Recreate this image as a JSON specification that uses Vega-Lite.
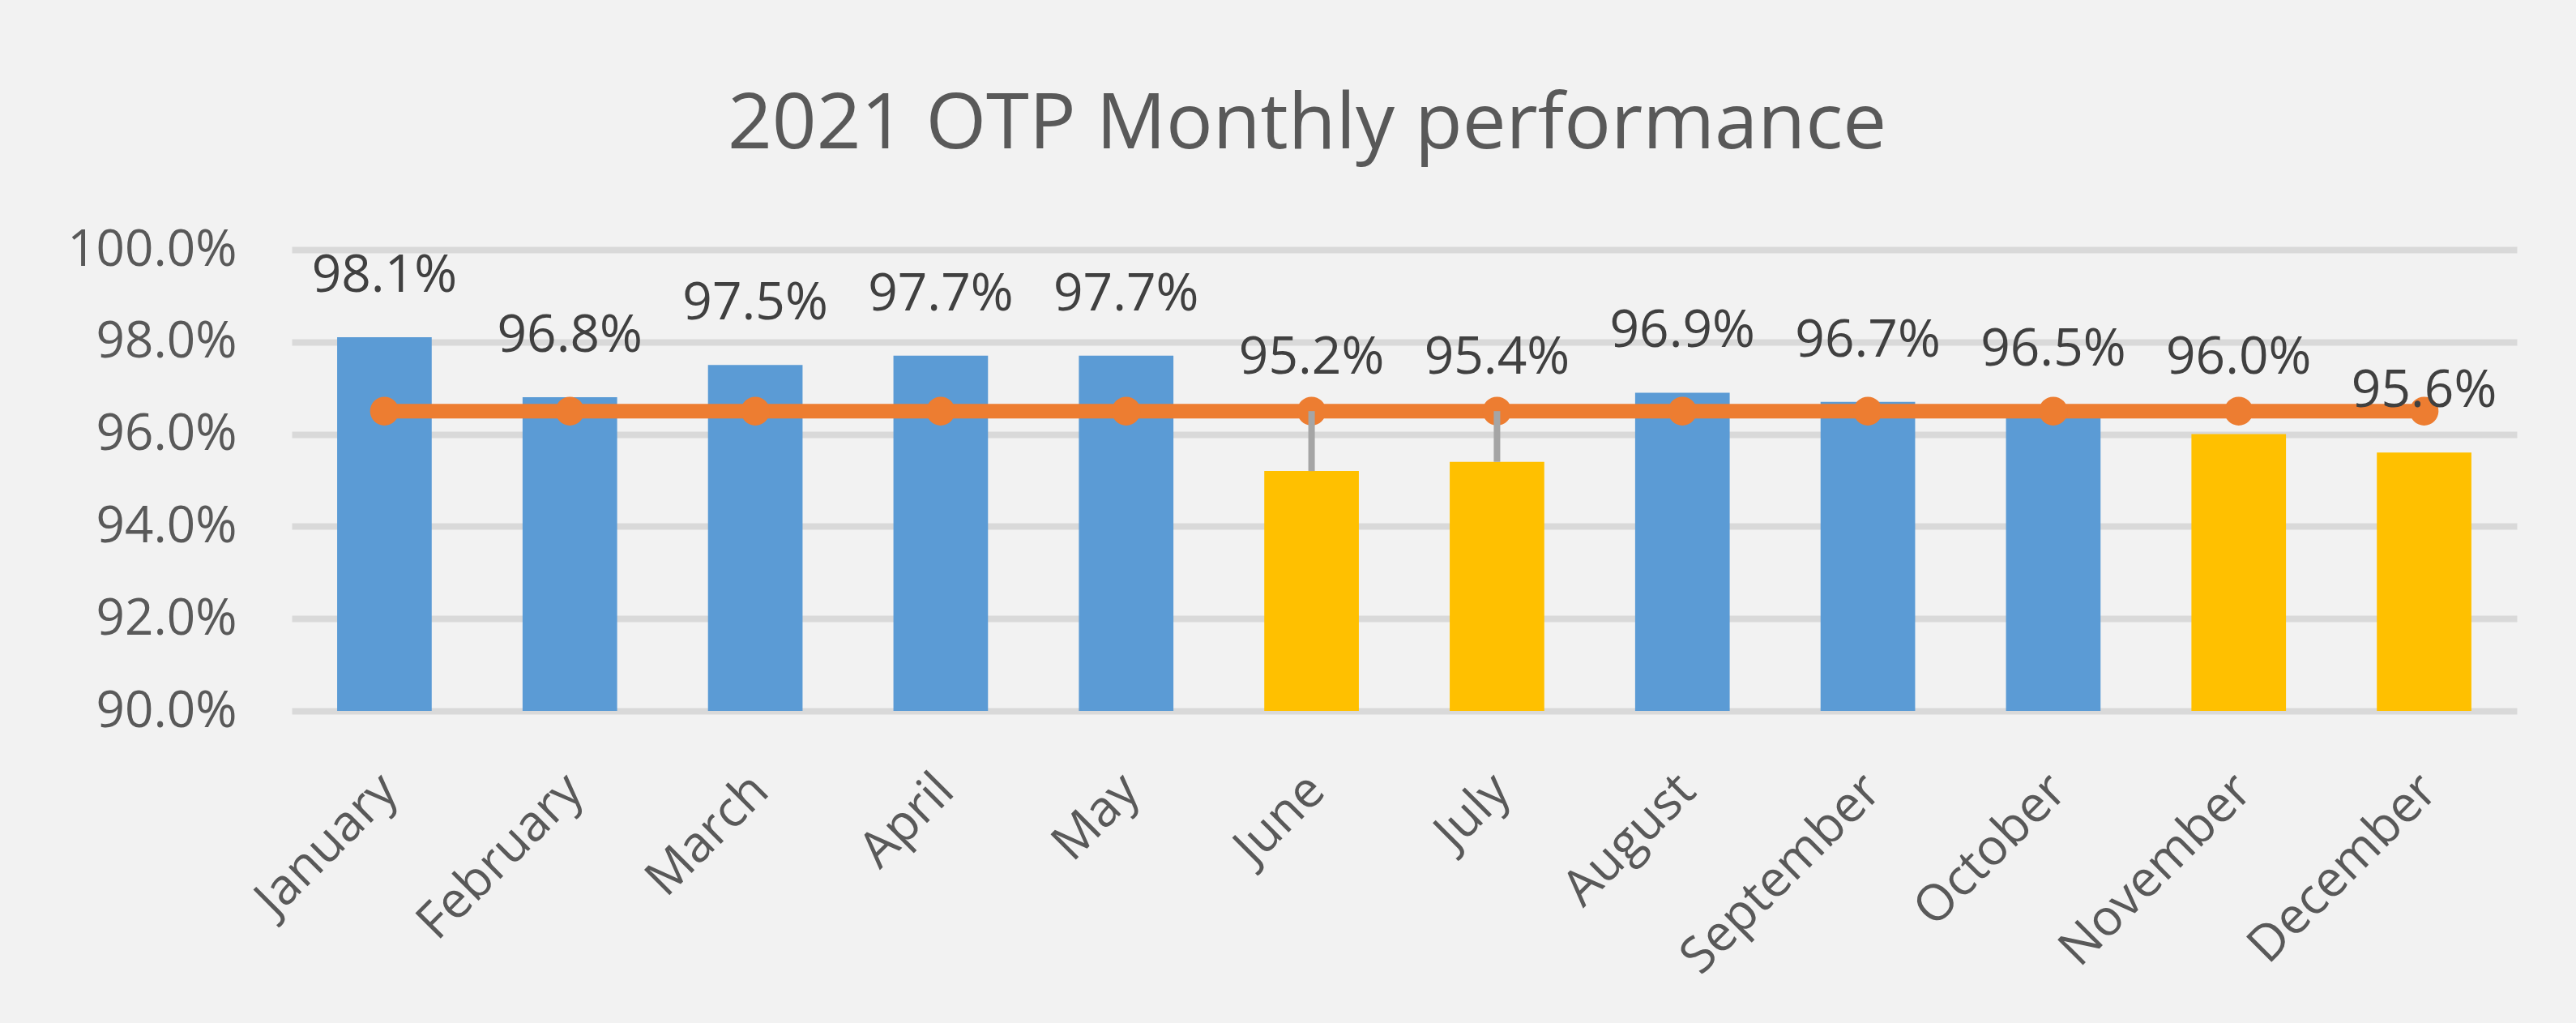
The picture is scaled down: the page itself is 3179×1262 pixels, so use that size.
{
  "$schema": "https://vega.github.io/schema/vega-lite/v6.json",
  "autosize": {"type": "none"},
  "width": 2746,
  "height": 569,
  "padding": {"left": 360, "top": 308, "right": 73, "bottom": 385},
  "background": "#F2F2F2",
  "config": {
    "view": {"stroke": null},
    "font": "Open Sans"
  },
  "title": {
    "text": "2021 OTP Monthly performance",
    "fontSize": 96,
    "font": "Open Sans",
    "fontWeight": "normal",
    "color": "#595959",
    "anchor": "middle",
    "dx": -120,
    "offset": 74
  },
  "data": {
    "values": [
      {"month": "January", "otp": 0.981, "target": 0.965},
      {"month": "February", "otp": 0.968, "target": 0.965},
      {"month": "March", "otp": 0.975, "target": 0.965},
      {"month": "April", "otp": 0.977, "target": 0.965},
      {"month": "May", "otp": 0.977, "target": 0.965},
      {"month": "June", "otp": 0.952, "target": 0.965},
      {"month": "July", "otp": 0.954, "target": 0.965},
      {"month": "August", "otp": 0.969, "target": 0.965},
      {"month": "September", "otp": 0.967, "target": 0.965},
      {"month": "October", "otp": 0.965, "target": 0.965},
      {"month": "November", "otp": 0.960, "target": 0.965},
      {"month": "December", "otp": 0.956, "target": 0.965}
    ]
  },
  "encoding": {
    "x": {
      "field": "month",
      "type": "nominal",
      "sort": null,
      "scale": {"paddingInner": 0.49, "paddingOuter": 0.245},
      "axis": {
        "title": null,
        "domain": false,
        "ticks": false,
        "grid": false,
        "labelAngle": -45,
        "labelAlign": "right",
        "labelBaseline": "middle",
        "labelFontSize": 62,
        "labelFont": "Open Sans",
        "labelColor": "#595959",
        "labelLimit": 0,
        "labelPadding": 88,
        "labelOffset": 6
      }
    }
  },
  "layer": [
    {
      "mark": {"type": "bar", "width": {"band": 1}},
      "encoding": {
        "y": {
          "field": "otp",
          "type": "quantitative",
          "scale": {"domain": [0.9, 1.0], "zero": false, "clamp": true},
          "axis": {
            "title": null,
            "format": ".1%",
            "values": [0.9, 0.92, 0.94, 0.96, 0.98, 1.0],
            "domain": false,
            "ticks": false,
            "grid": true,
            "gridColor": "#D9D9D9",
            "gridWidth": 8,
            "labelFontSize": 62,
            "labelFont": "Open Sans",
            "labelColor": "#595959",
            "labelLimit": 0,
            "labelPadding": 68
          }
        },
        "y2": {"datum": 0.9},
        "color": {
          "condition": {"test": "datum.otp < datum.target", "value": "#FFC000"},
          "value": "#5B9BD5"
        }
      }
    },
    {
      "mark": {"type": "line", "color": "#ED7D31", "strokeWidth": 18},
      "encoding": {
        "y": {"field": "target", "type": "quantitative"}
      }
    },
    {
      "mark": {"type": "point", "filled": true, "shape": "circle", "size": 1257, "color": "#ED7D31", "opacity": 1},
      "encoding": {
        "y": {"field": "target", "type": "quantitative"}
      }
    },
    {
      "transform": [{"filter": {"field": "month", "oneOf": ["June", "July"]}}],
      "mark": {"type": "rule", "color": "#A5A5A5", "strokeWidth": 8},
      "encoding": {
        "y": {"field": "otp", "type": "quantitative"},
        "y2": {"field": "target"}
      }
    },
    {
      "transform": [{"filter": {"not": {"field": "month", "oneOf": ["June", "July", "November"]}}}],
      "mark": {"type": "text", "fontSize": 64, "font": "Open Sans", "color": "#404040", "dy": -75, "baseline": "middle"},
      "encoding": {
        "y": {"field": "otp", "type": "quantitative"},
        "text": {"field": "otp", "type": "quantitative", "format": ".1%"}
      }
    },
    {
      "transform": [{"filter": {"field": "month", "oneOf": ["June", "July", "November"]}}],
      "mark": {"type": "text", "fontSize": 64, "font": "Open Sans", "color": "#404040", "dy": -65, "baseline": "middle"},
      "encoding": {
        "y": {"field": "target", "type": "quantitative"},
        "text": {"field": "otp", "type": "quantitative", "format": ".1%"}
      }
    }
  ]
}
